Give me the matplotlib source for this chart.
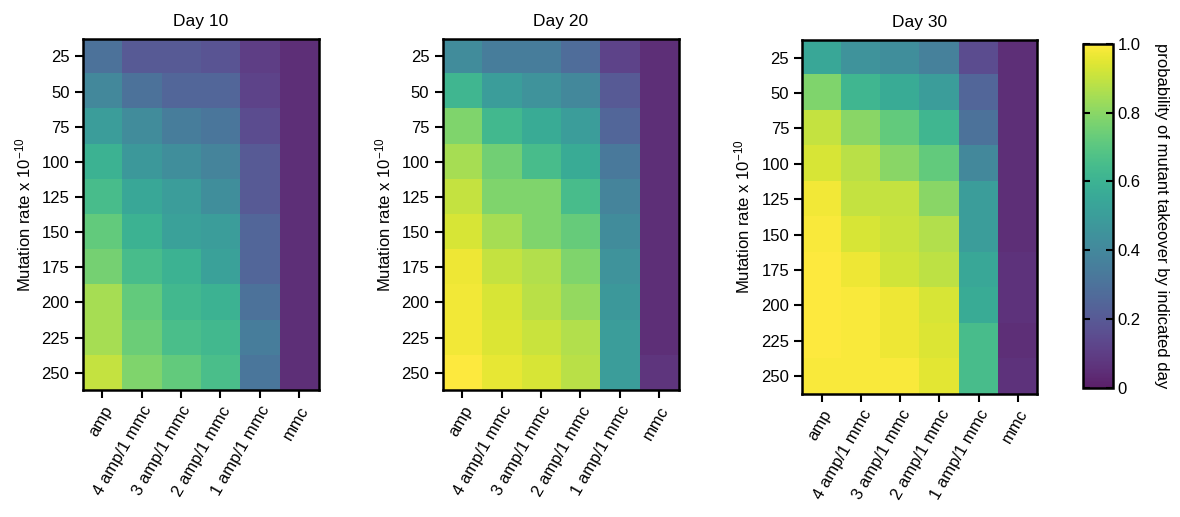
import numpy as np
import matplotlib
matplotlib.use('Agg')
import matplotlib.pyplot as plt
from matplotlib.colors import ListedColormap

plt.rcParams['font.family'] = ['Liberation Sans', 'DejaVu Sans']
plt.rcParams['font.size'] = 12
plt.rcParams['mathtext.default'] = 'regular'

# data
rates = [25, 50, 75, 100, 125, 150, 175, 200, 225, 250]
treatments = ['amp', '4 amp/1 mmc', '3 amp/1 mmc', '2 amp/1 mmc', '1 amp/1 mmc', 'mmc']
days = ['Day 10', 'Day 20', 'Day 30']

day10 = [
    [0.30, 0.20, 0.20, 0.18, 0.10, 0.05],
    [0.40, 0.30, 0.25, 0.25, 0.12, 0.05],
    [0.50, 0.42, 0.35, 0.32, 0.15, 0.05],
    [0.60, 0.48, 0.43, 0.38, 0.20, 0.05],
    [0.65, 0.55, 0.50, 0.43, 0.20, 0.05],
    [0.72, 0.60, 0.52, 0.50, 0.25, 0.05],
    [0.76, 0.65, 0.60, 0.52, 0.25, 0.05],
    [0.85, 0.72, 0.63, 0.60, 0.30, 0.05],
    [0.85, 0.74, 0.66, 0.63, 0.35, 0.05],
    [0.90, 0.78, 0.72, 0.66, 0.32, 0.05],
]
day20 = [
    [0.42, 0.35, 0.35, 0.28, 0.12, 0.05],
    [0.62, 0.50, 0.45, 0.40, 0.20, 0.05],
    [0.78, 0.63, 0.57, 0.50, 0.25, 0.05],
    [0.85, 0.75, 0.65, 0.57, 0.33, 0.05],
    [0.90, 0.78, 0.78, 0.65, 0.38, 0.05],
    [0.93, 0.85, 0.78, 0.73, 0.42, 0.05],
    [0.97, 0.90, 0.87, 0.78, 0.45, 0.05],
    [0.98, 0.93, 0.88, 0.82, 0.48, 0.05],
    [0.98, 0.94, 0.91, 0.87, 0.50, 0.05],
    [1.00, 0.96, 0.93, 0.88, 0.50, 0.07],
]
day30 = [
    [0.55, 0.45, 0.43, 0.37, 0.15, 0.05],
    [0.78, 0.62, 0.57, 0.50, 0.25, 0.05],
    [0.90, 0.80, 0.72, 0.62, 0.30, 0.05],
    [0.93, 0.88, 0.80, 0.72, 0.40, 0.05],
    [0.98, 0.90, 0.90, 0.80, 0.50, 0.05],
    [0.99, 0.93, 0.91, 0.87, 0.50, 0.05],
    [1.00, 0.97, 0.92, 0.89, 0.55, 0.06],
    [1.00, 0.99, 0.97, 0.93, 0.57, 0.06],
    [1.00, 0.99, 0.97, 0.94, 0.65, 0.05],
    [0.99, 0.99, 0.99, 0.95, 0.65, 0.06],
]
all_days = [day10, day20, day30]

# viridis a bit washed out, like the original
base = plt.get_cmap('viridis')(np.linspace(0, 1, 256))
base[:, :3] = base[:, :3] * 0.88 + 0.12
cmap = ListedColormap(base)

fig = plt.figure(figsize=(11.8, 5.17), dpi=100)
boxes = [[0.070, 0.245, 0.200, 0.680],
         [0.375, 0.245, 0.200, 0.680],
         [0.680, 0.238, 0.199, 0.685]]

for i in range(3):
    ax = fig.add_axes(boxes[i])
    im = ax.imshow(np.array(all_days[i]), cmap=cmap, vmin=0, vmax=1, aspect='auto')
    ax.set_title(days[i], fontsize=12.5, pad=9)
    ax.set_yticks(range(len(rates)))
    ax.set_yticklabels(rates)
    ax.set_xticks(range(len(treatments)))
    ax.set_xticklabels(treatments, rotation=60, ha='right', rotation_mode='anchor')
    ax.set_ylabel('Mutation rate x 10$^{-10}$', labelpad=6)
    for s in ax.spines.values():
        s.set_linewidth(1.8)
    ax.tick_params(width=1.5, length=6)

cax = fig.add_axes([0.918, 0.25, 0.025, 0.665])
cb = fig.colorbar(im, cax=cax, ticks=[0, 0.2, 0.4, 0.6, 0.8, 1.0])
cb.ax.set_yticklabels(['0', '0.2', '0.4', '0.6', '0.8', '1.0'])
cb.outline.set_linewidth(1.8)
cb.ax.tick_params(direction='in', length=5, width=1.5, left=True, right=True)
cb.set_label('probability of mutant takeover by indicated day', rotation=270, labelpad=20)

plt.savefig('out.png', dpi=100)
